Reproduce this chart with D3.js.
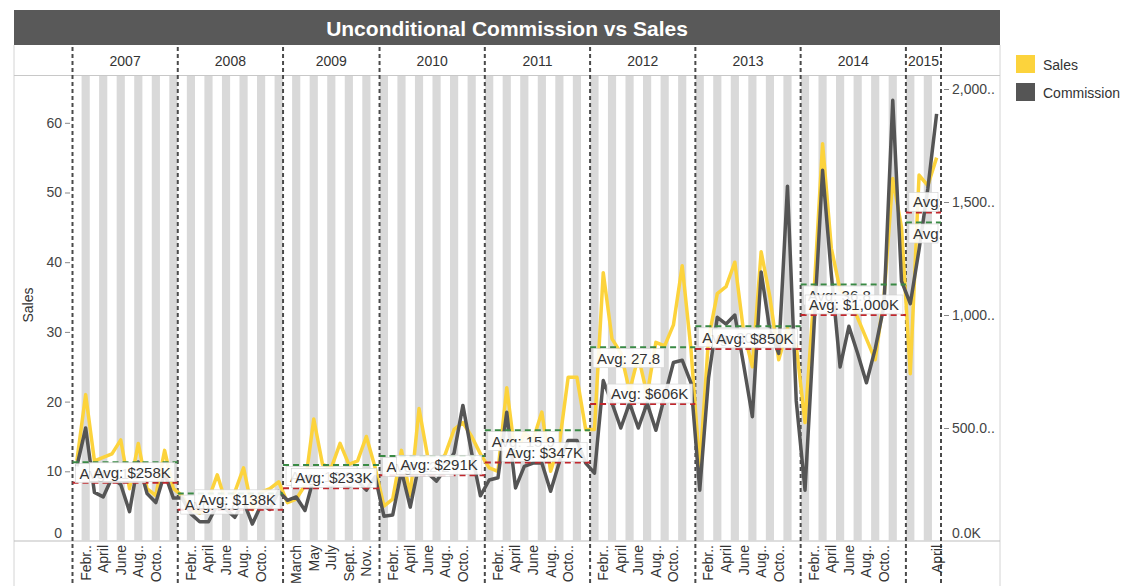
<!DOCTYPE html>
<html>
<head>
<meta charset="utf-8">
<script src="https://cdn.jsdelivr.net/npm/d3@7"></script>
<style>
  body { margin: 0; background: #fff; }
  svg text { font-family: "Liberation Sans", Arial, sans-serif; }
</style>
</head>
<body>
<div id="chart"></div>
<script>
// chart values
const years = ["2007", "2008", "2009", "2010", "2011", "2012", "2013", "2014", "2015"];
const firstMonth = [0, 0, 1, 0, 0, 0, 0, 0, 0];   // 2009 starts in February

const salesByYear = [
  [11.5, 21, 11.5, 12, 12.5, 14.5, 7.5, 14, 7.5, 6.5, 13, 7.5],
  [6.5, 4.5, 4.0, 6.0, 9.5, 5.5, 7.0, 10.5, 4.5, 7.0, 7.5, 8.5],
  [5.5, 6, 8, 17.5, 11, 10.5, 14, 11, 11.5, 15, 10.5],
  [5, 6, 13, 6.5, 19, 12, 10.5, 12.5, 16, 17, 15, 12.5],
  [10.5, 10, 22, 12, 15.5, 14.5, 18.5, 10, 14, 23.5, 23.5, 16],
  [16, 38.5, 29, 27, 21.5, 26.5, 21, 28.5, 28, 31, 39.5, 27.5],
  [10.5, 29, 35.5, 36.5, 40, 30, 25, 41.5, 35, 26, 30.5, 28],
  [17, 35, 57, 42, 36, 35, 32, 29, 26, 35, 52, 45],
  [24, 52.5, 51, 55]
];

// commission in $K
const commissionByYear = [
  [330, 500, 215, 195, 280, 250, 130, 350, 210, 170, 300, 190],
  [190, 120, 85, 85, 160, 140, 105, 175, 75, 160, 140, 220],
  [180, 195, 135, 280, 255, 245, 255, 240, 265, 225, 285],
  [110, 115, 310, 150, 340, 300, 265, 320, 390, 600, 390, 200],
  [270, 280, 570, 235, 330, 345, 345, 220, 350, 445, 445, 345],
  [300, 710, 610, 500, 610, 500, 610, 490, 640, 790, 800, 700],
  [225, 720, 990, 960, 1000, 780, 550, 1190, 930, 830, 1570, 620],
  [225, 930, 1640, 1180, 770, 950, 830, 700, 850, 1040, 1950, 1150],
  [1050, 1290, 1560, 1890]
];

const salesAvg = [11.3, 6.8, 10.9, 12.2, 15.9, 27.8, 30.8, 36.8, 45.7];
const commissionAvg = [258, 138, 233, 291, 347, 606, 850, 1000, 1454];

const monthLabels = ["Janu..", "Febr..", "March", "April", "May", "June", "July",
                     "Aug..", "Sept..", "Octo..", "Nov..", "Dece.."];
const labelMonths = [[1, 3, 5, 7, 9], [1, 3, 5, 7, 9], [2, 4, 6, 8, 10], [1, 3, 5, 7, 9],
                     [1, 3, 5, 7, 9], [1, 3, 5, 7, 9], [1, 3, 5, 7, 9], [1, 3, 5, 7, 9], [3]];

const salesTicks = [0, 10, 20, 30, 40, 50, 60];
const commissionTicks = [0, 500, 1000, 1500, 2000];
const commissionTickLabels = ["0.0K", "500.0..", "1,000..", "1,500..", "2,000.."];

const salesColor = "#fcd33c",
      commissionColor = "#555555",
      greenAvg = "#3a8a45",
      redAvg = "#c0272d";

// flatten to one row per month
const rows = [];
years.forEach(function(yr, yi) {
  salesByYear[yi].forEach(function(v, j) {
    const m = firstMonth[yi] + j;
    rows.push({year: yr, yi: yi, month: m, key: yr + "-" + m,
               sales: v, commission: commissionByYear[yi][j]});
  });
});

const W = 1129, H = 586;
const plotTop = 75.5, plotBottom = 541;

const svg = d3.select("#chart")
  .append("svg")
    .attr("width", W)
    .attr("height", H);

// scales
const x = d3.scaleBand()
  .domain(rows.map(d => d.key))
  .range([72.5, 941]);
const bw = x.bandwidth();

const ySales = d3.scaleLinear()
  .domain([0, (plotBottom - plotTop) / 6.97])
  .range([plotBottom, plotTop]);

const yComm = d3.scaleLinear()
  .domain([0, (plotBottom - plotTop) / 0.226])
  .range([plotBottom, plotTop]);

// title bar
svg.append("rect")
  .attr("x", 14).attr("y", 10)
  .attr("width", 986).attr("height", 35)
  .attr("fill", "#595959");
svg.append("text")
  .attr("x", 507).attr("y", 28)
  .attr("text-anchor", "middle")
  .attr("dominant-baseline", "central")
  .attr("fill", "#fff")
  .attr("font-size", 21)
  .attr("font-weight", "bold")
  .text("Unconditional Commission vs Sales");

// frame lines
svg.append("line").attr("x1", 14).attr("x2", 14).attr("y1", 45).attr("y2", H)
  .attr("stroke", "#d4d4d4");
svg.append("line").attr("x1", 1000).attr("x2", 1000).attr("y1", 45).attr("y2", H)
  .attr("stroke", "#d4d4d4");
svg.append("line").attr("x1", 14).attr("x2", 1000).attr("y1", plotTop).attr("y2", plotTop)
  .attr("stroke", "#c8c8c8");
svg.append("line").attr("x1", 14).attr("x2", 1000).attr("y1", plotBottom).attr("y2", plotBottom)
  .attr("stroke", "#bdbdbd");

// alternating month bands
svg.append("g")
  .selectAll("rect")
  .data(rows.filter((d, i) => i % 2 === 1))
  .join("rect")
    .attr("x", d => x(d.key) + 0.3)
    .attr("y", plotTop + 0.5)
    .attr("width", bw - 0.6)
    .attr("height", plotBottom - plotTop - 0.5)
    .attr("fill", "#d9d9d9");

// panel extents per year
const panels = years.map(function(yr, yi) {
  const r = rows.filter(d => d.yi === yi);
  return {year: yr, yi: yi, x0: x(r[0].key), x1: x(r[r.length - 1].key) + bw};
});

// year headers
svg.append("g")
  .selectAll("text")
  .data(panels)
  .join("text")
    .attr("x", d => (d.x0 + d.x1) / 2)
    .attr("y", 61)
    .attr("text-anchor", "middle")
    .attr("dominant-baseline", "central")
    .attr("font-size", 14)
    .attr("fill", "#333")
    .text(d => d.year);

// dashed pane dividers
const bounds = panels.map(d => d.x0).concat([panels[panels.length - 1].x1]);
svg.append("g")
  .selectAll("line")
  .data(bounds)
  .join("line")
    .attr("x1", d => d).attr("x2", d => d)
    .attr("y1", 47).attr("y2", H)
    .attr("stroke", "#4a4a4a")
    .attr("stroke-width", 2)
    .attr("stroke-dasharray", "4,3");

// left axis
const leftAxis = svg.append("g")
  .attr("transform", "translate(70,0)")
  .call(d3.axisLeft(ySales).tickValues(salesTicks).tickSize(5).tickSizeOuter(0).tickPadding(3));
leftAxis.select(".domain").remove();
leftAxis.selectAll("text").attr("font-size", 14).attr("fill", "#444")
  .style("font-family", "'Liberation Sans', Arial, sans-serif");
leftAxis.selectAll("line").attr("stroke", "#888");
leftAxis.selectAll(".tick").filter(d => d === 0).select("line").remove();
leftAxis.selectAll(".tick").filter(d => d === 0).select("text").attr("y", -8);

svg.append("text")
  .attr("transform", "translate(33,305) rotate(-90)")
  .attr("text-anchor", "middle")
  .attr("font-size", 14)
  .attr("fill", "#333")
  .text("Sales");

// right axis
const rightAxis = svg.append("g")
  .attr("transform", "translate(944,0)")
  .call(d3.axisRight(yComm).tickValues(commissionTicks).tickSize(5).tickSizeOuter(0).tickPadding(3)
    .tickFormat((d, i) => commissionTickLabels[i]));
rightAxis.select(".domain").remove();
rightAxis.selectAll("text").attr("font-size", 14).attr("fill", "#444")
  .style("font-family", "'Liberation Sans', Arial, sans-serif");
rightAxis.selectAll("line").attr("stroke", "#888");
rightAxis.selectAll(".tick").filter(d => d === 0).select("line").remove();
rightAxis.selectAll(".tick").filter(d => d === 0).select("text").attr("y", -8);

// month labels under the plot
const tickRows = rows.filter(d => labelMonths[d.yi].indexOf(d.month) >= 0);
svg.append("g")
  .selectAll("text")
  .data(tickRows)
  .join("text")
    .attr("transform", d => `translate(${x(d.key) + bw / 2},545) rotate(-90)`)
    .attr("text-anchor", "end")
    .attr("dy", "0.35em")
    .attr("font-size", 14)
    .attr("fill", "#333")
    .text(d => monthLabels[d.month]);

// lines
const cx = d => x(d.key) + bw / 2;
svg.append("path")
  .datum(rows)
  .attr("fill", "none")
  .attr("stroke", salesColor)
  .attr("stroke-width", 3.5)
  .attr("stroke-linejoin", "round")
  .attr("d", d3.line().x(cx).y(d => ySales(d.sales)));

svg.append("path")
  .datum(rows)
  .attr("fill", "none")
  .attr("stroke", commissionColor)
  .attr("stroke-width", 3.5)
  .attr("stroke-linejoin", "round")
  .attr("d", d3.line().x(cx).y(d => yComm(d.commission)));

// average reference lines
svg.append("g")
  .selectAll("line")
  .data(panels)
  .join("line")
    .attr("x1", d => d.x0).attr("x2", d => d.x1)
    .attr("y1", d => ySales(salesAvg[d.yi])).attr("y2", d => ySales(salesAvg[d.yi]))
    .attr("stroke", greenAvg)
    .attr("stroke-width", 2)
    .attr("stroke-dasharray", "6,4");

svg.append("g")
  .selectAll("line")
  .data(panels)
  .join("line")
    .attr("x1", d => d.x0).attr("x2", d => d.x1)
    .attr("y1", d => yComm(commissionAvg[d.yi])).attr("y2", d => yComm(commissionAvg[d.yi]))
    .attr("stroke", redAvg)
    .attr("stroke-width", 2)
    .attr("stroke-dasharray", "6,4");

// clip paths, one per pane
const defs = svg.append("defs");
panels.forEach(function(p) {
  defs.append("clipPath").attr("id", "pane" + p.yi)
    .append("rect")
      .attr("x", p.x0 + 1).attr("y", 0)
      .attr("width", p.x1 - p.x0 - 2).attr("height", H);
});

// average labels: sales below its line on the left, commission above its line on the right.
// a label too wide for its pane is cut down to "Avg:" like the reference.
function avgLabel(p, text, lineY, align) {
  const g = svg.append("g").attr("clip-path", "url(#pane" + p.yi + ")");
  const box = g.append("rect");
  const t = g.append("text")
    .attr("font-size", 15)
    .attr("fill", "#333")
    .text(text);
  let w = t.node().getComputedTextLength() + 8;
  const room = p.x1 - p.x0 - 6;
  if (w > room) {
    t.text("Avg:");
    w = room;
  }
  const h = 19;
  let bx = p.x0 + 3;
  if (align === "right") bx = p.x1 - 3 - w;
  const by = align === "right" ? lineY - h - 1 : lineY + 1.5;
  box.attr("x", bx).attr("y", by).attr("width", w).attr("height", h)
    .attr("fill", "#fff").attr("fill-opacity", 0.88)
    .attr("stroke", "#d0d0d0").attr("stroke-width", 0.6);
  t.attr("x", bx + 4).attr("y", by + h / 2).attr("dominant-baseline", "central");
}

panels.forEach(p => avgLabel(p, "Avg: " + salesAvg[p.yi], ySales(salesAvg[p.yi]), "left"));
panels.forEach(p => avgLabel(p, "Avg: $" + d3.format(",")(commissionAvg[p.yi]) + "K",
                             yComm(commissionAvg[p.yi]), "right"));

// legend
const legend = svg.append("g").attr("transform", "translate(1016,55)");
[["Sales", salesColor], ["Commission", commissionColor]].forEach(function(d, i) {
  legend.append("rect")
    .attr("x", 0).attr("y", i * 28)
    .attr("width", 19).attr("height", 18)
    .attr("fill", d[1]);
  legend.append("text")
    .attr("x", 27).attr("y", i * 28 + 10)
    .attr("dominant-baseline", "central")
    .attr("font-size", 14)
    .attr("fill", "#333")
    .text(d[0]);
});
</script>
</body>
</html>
